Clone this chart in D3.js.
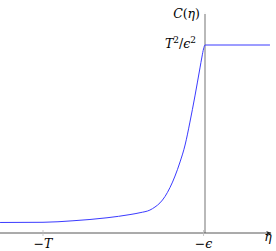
<!DOCTYPE html>
<html><head><meta charset="utf-8">
<script src="https://cdn.jsdelivr.net/npm/d3@7"></script>
<style>body{margin:0;background:#fff}svg{display:block}text{font-family:"DejaVu Serif","Liberation Serif",serif}</style>
</head><body>
<script>
// eta in units of T (T=1); C in units of T^2/eps^2 (plateau = 1)
const etaValues = [-1.265, -1.0, -0.815, -0.605, -0.463, -0.401, -0.340, -0.309, -0.278, -0.247, -0.216, -0.185, -0.154, -0.123, -0.093, -0.062, -0.031, -0.019, -0.009, 0.0, 0.401];
const cValues   = [0.056, 0.057, 0.065, 0.081, 0.098, 0.108, 0.122, 0.138, 0.160, 0.194, 0.242, 0.303, 0.378, 0.468, 0.590, 0.729, 0.878, 0.936, 0.979, 1.0, 1.0];
const xTickValues = [-1.0, -0.009];
const xTickLabels = ["\u2212T", "\u2212\u03f5"];

const W = 276, H = 251;
const svg = d3.select("body").append("svg").attr("width", W).attr("height", H);
const x = d3.scaleLinear().domain([-1, 0]).range([43, 205]);
const y = d3.scaleLinear().domain([0, 1]).range([233, 45]);

const defs = svg.append("defs");
defs.append("marker").attr("id","arr").attr("viewBox","0 0 10 10").attr("refX",9).attr("refY",5)
  .attr("markerWidth",6).attr("markerHeight",6).attr("orient","auto-start-reverse")
  .append("path").attr("d","M0,1.5 L10,5 L0,8.5 L2.5,5 Z").attr("fill","#222");

// vertical axis (gray)
svg.append("line").attr("x1", x(0)).attr("x2", x(0)).attr("y1", y(0)).attr("y2", 14)
  .attr("stroke", "#a8a8a8").attr("stroke-width", 1.6);
svg.append("line").attr("x1", x(0)).attr("x2", x(0)).attr("y1", 20).attr("y2", 12)
  .attr("stroke", "#a8a8a8").attr("stroke-width", 0.1).attr("marker-end","url(#arr)");

// horizontal axis
svg.append("line").attr("x1", 0).attr("x2", 271).attr("y1", y(0)).attr("y2", y(0))
  .attr("stroke", "#444").attr("stroke-width", 0.9).attr("marker-end","url(#arr)");

// ticks
svg.selectAll(".tick").data(xTickValues).enter().append("line")
  .attr("x1", d => x(d)).attr("x2", d => x(d)).attr("y1", y(0) - 3).attr("y2", y(0) + 3)
  .attr("stroke", "#bbb").attr("stroke-width", 0.8);
svg.selectAll(".tl").data(xTickValues).enter().append("text")
  .attr("x", d => x(d)).attr("y", 248).attr("text-anchor","middle")
  .attr("font-style","italic").attr("font-size", 12.5)
  .text((d,i) => xTickLabels[i]);

// curve
const line = d3.line().x((d,i) => x(etaValues[i])).y((d,i) => y(cValues[i])).curve(d3.curveMonotoneX);
svg.append("path").datum(cValues).attr("d", line).attr("fill","none")
  .attr("stroke","#3a3aff").attr("stroke-width",1);

// labels
svg.append("text").attr("x", 200).attr("y", 18).attr("text-anchor","end")
  .attr("font-size", 12.5)
  .html('<tspan font-style="italic">C</tspan>(<tspan font-style="italic">η</tspan>)');
svg.append("text").attr("x", 196).attr("y", 48).attr("text-anchor","end")
  .attr("font-size", 12.5)
  .html('<tspan font-style="italic">T</tspan><tspan font-size="9" dy="-5">2</tspan><tspan dy="5">/</tspan><tspan font-style="italic">ϵ</tspan><tspan font-size="9" dy="-5">2</tspan>');
svg.append("text").attr("x", 268).attr("y", 241).attr("text-anchor","middle")
  .attr("font-style","italic").attr("font-size", 12.5).text("η");
</script>
</body></html>
